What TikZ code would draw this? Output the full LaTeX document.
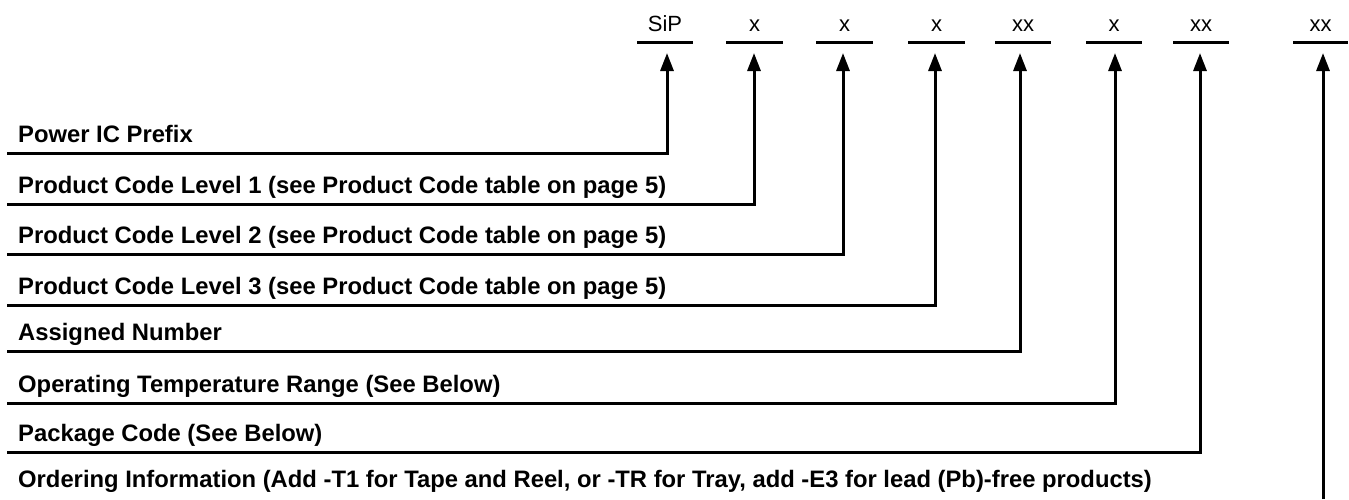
\documentclass[tikz,border=0pt]{standalone}
\usepackage{fontspec}
\setmainfont{Liberation Sans}
\usetikzlibrary{arrows.meta}
\begin{document}
\begin{tikzpicture}[x=1pt,y=-1pt,
  conn/.style={line width=3pt,-{Triangle[width=13pt,length=18pt]}},
  uline/.style={line width=3pt},
  code/.style={anchor=base,inner sep=0pt,font=\fontsize{22}{26}\selectfont},
  desc/.style={anchor=base west,inner sep=0pt,font=\fontsize{23.8}{28}\selectfont\bfseries}]
\useasboundingbox (0,0) rectangle (1349,499);
% top code labels with underlines
\foreach \n/\t/\xa/\xb [count=\i] in {p1/SiP/637/693, p2/x/726/783, p3/x/816/873, p4/x/908/965, p5/xx/995/1051, p6/x/1086/1142, p7/xx/1173/1229, p8/xx/1293/1348}{
  \node[code] (\n) at ({(\xa+\xb)/2},31) {\t};
  \draw[uline] (\xa,42) -- (\xb,42);
}
% arrow tips
\foreach \i/\xx in {1/667,2/754,3/843,4/935,5/1020,6/1115,7/1200,8/1323}{
  \coordinate (a\i) at (\xx,53);
}
% descriptions
\node[desc] (t1) at (18,142.5) {Power IC Prefix};
\node[desc] (t2) at (18,193.5) {Product Code Level 1 (see Product Code table on page 5)};
\node[desc] (t3) at (18,243.5) {Product Code Level 2 (see Product Code table on page 5)};
\node[desc] (t4) at (18,294.5) {Product Code Level 3 (see Product Code table on page 5)};
\node[desc] (t5) at (18,340.5) {Assigned Number};
\node[desc] (t6) at (18,392.5) {Operating Temperature Range (See Below)};
\node[desc] (t7) at (18,441) {Package Code (See Below)};
\node[desc] (t8) at (18,487) {Ordering Information (Add -T1 for Tape and Reel, or -TR for Tray, add -E3 for lead (Pb)-free products)};
% line starts
\foreach \i/\yy in {1/153,2/204,3/254,4/305,5/351,6/403,7/452}{
  \coordinate (s\i) at (7,\yy);
  \draw[conn] (s\i) -| (a\i);
}
\coordinate (s8) at (1323,499);
\draw[conn] (s8) -- (a8);
\end{tikzpicture}
\end{document}
